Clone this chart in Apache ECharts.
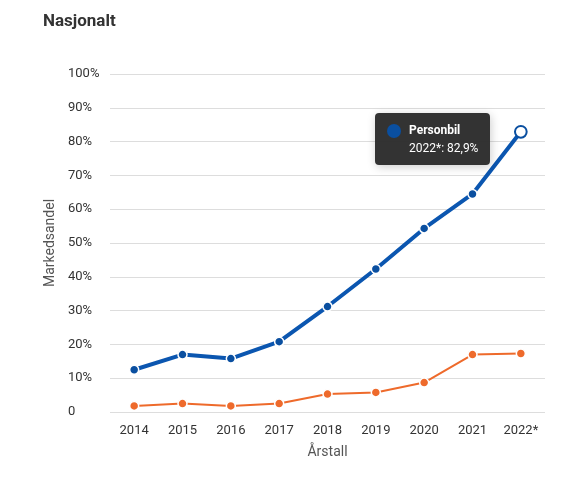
<!DOCTYPE html>
<html>
<head>
<meta charset="utf-8">
<script src="https://cdn.jsdelivr.net/npm/echarts@6/dist/echarts.min.js"></script>
<style>
html,body{margin:0;padding:0;background:#fff;}
#chart{width:587px;height:477px;}
</style>
</head>
<body>
<div id="chart"></div>
<script>
var years = ['2014', '2015', '2016', '2017', '2018', '2019', '2020', '2021', '2022*'];
var personbil = [12.5, 17.0, 15.8, 20.8, 31.2, 42.3, 54.3, 64.5, 82.9];
var annet = [1.8, 2.5, 1.8, 2.5, 5.3, 5.8, 8.7, 17.0, 17.3];
var fmt = function (v) { return String(v).replace('.', ','); };

var chart = echarts.init(document.getElementById('chart'));
chart.setOption({
    animation: false,
    title: {
        text: 'Nasjonalt', left: 38, top: 8,
        textStyle: {fontFamily: 'Roboto', fontSize: 17, fontWeight: 'bold', color: '#333'}
    },
    grid: {left: 110, right: 42, top: 74, bottom: 65},
    tooltip: {
        trigger: 'item',
        alwaysShowContent: true,
        backgroundColor: 'rgba(40,40,40,0.95)',
        borderWidth: 0,
        padding: [8, 12],
        textStyle: {color: '#fff', fontFamily: 'Roboto', fontSize: 12},
        position: function () { return [375, 113]; },
        formatter: function (p) {
            return '<span style="display:inline-block;width:14px;height:14px;border-radius:7px;background:#0a4fa0;margin-right:8px;vertical-align:-4px"></span>' +
                '<b>' + p.seriesName + '</b><br/><span style="margin-left:22px">' + p.name + ': ' + fmt(p.value) + '%</span>';
        }
    },
    xAxis: {
        type: 'category', data: years,
        name: 'Årstall', nameLocation: 'middle', nameGap: 33,
        nameTextStyle: {fontFamily: 'Roboto', fontSize: 14, color: '#555'},
        axisLine: {show: false}, axisTick: {show: false},
        axisLabel: {fontFamily: 'Roboto', fontSize: 13, color: '#333', margin: 12, interval: 0}
    },
    yAxis: {
        type: 'value', min: 0, max: 100, interval: 10,
        name: 'Markedsandel', nameLocation: 'middle', nameGap: 50,
        nameTextStyle: {fontFamily: 'Roboto', fontSize: 14, color: '#555'},
        axisLabel: {
            fontFamily: 'Roboto', fontSize: 13, color: '#333', align: 'left', margin: 42,
            formatter: function (v) { return v === 0 ? '0' : v + '%'; }
        },
        splitLine: {lineStyle: {color: '#ddd'}}
    },
    series: [{
        name: 'Personbil', type: 'line', data: personbil,
        symbol: 'circle', symbolSize: 9,
        lineStyle: {color: '#0a4fa0', width: 4},
        itemStyle: {color: '#0a4fa0', borderColor: '#fff', borderWidth: 1.5},
        emphasis: {scale: 1.3, itemStyle: {color: '#fff', borderColor: '#0a4fa0', borderWidth: 2}}
    }, {
        name: 'Annet', type: 'line', data: annet,
        symbol: 'circle', symbolSize: 9,
        lineStyle: {color: '#ee6a2b', width: 2},
        itemStyle: {color: '#ee6a2b', borderColor: '#fff', borderWidth: 1.5}
    }]
});
chart.dispatchAction({type: 'showTip', seriesIndex: 0, dataIndex: 8});
chart.dispatchAction({type: 'highlight', seriesIndex: 0, dataIndex: 8});
</script>
</body>
</html>
